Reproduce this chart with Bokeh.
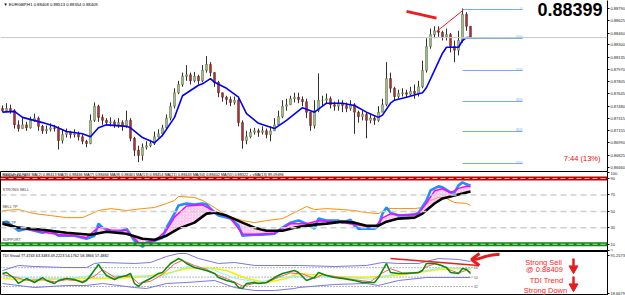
from bokeh.plotting import figure
from bokeh.layouts import column
from bokeh.models import Range1d, FixedTicker, PrintfTickFormatter, Label, Span
from bokeh.embed import file_html
from bokeh.resources import INLINE

FONT = "Liberation Sans"

# ---------------- data: EURGBP H1 candles ----------------
first_open = 0.8745
close = [0.8742, 0.8745, 0.8742, 0.8723, 0.8718, 0.8723, 0.8719, 0.8729, 0.8732, 0.8721,
         0.8715, 0.8717, 0.8719, 0.8718, 0.8702, 0.8710, 0.8713, 0.8710, 0.8711, 0.8707,
         0.8701, 0.8698, 0.8729, 0.8748, 0.8733, 0.8729, 0.8726, 0.8727, 0.8723, 0.8726,
         0.8721, 0.8729, 0.8705, 0.8689, 0.8682, 0.8693, 0.8695, 0.8698, 0.8707, 0.8711,
         0.8719, 0.8732, 0.8748, 0.8766, 0.8777, 0.8788, 0.8790, 0.8782, 0.8788, 0.8782,
         0.8796, 0.8804, 0.8793, 0.8780, 0.8766, 0.8760, 0.8757, 0.8753, 0.8756, 0.8726,
         0.8702, 0.8707, 0.8713, 0.8715, 0.8713, 0.8715, 0.8710, 0.8715, 0.8723, 0.8734,
         0.8748, 0.8750, 0.8758, 0.8760, 0.8757, 0.8754, 0.8740, 0.8722, 0.8742, 0.8756,
         0.8756, 0.8758, 0.8750, 0.8748, 0.8752, 0.8749, 0.8745, 0.8750, 0.8740, 0.8734,
         0.8737, 0.8729, 0.8732, 0.8729, 0.8740, 0.8750, 0.8785, 0.8772, 0.8761, 0.8765,
         0.8766, 0.8764, 0.8768, 0.8765, 0.8774, 0.8796, 0.8828, 0.8844, 0.8849, 0.8847,
         0.8841, 0.8844, 0.8828, 0.8823, 0.8836, 0.8871, 0.8855, 0.8840]
high = [0.8749, 0.8752, 0.8750, 0.8744, 0.8729, 0.8732, 0.8727, 0.8734, 0.8738, 0.8734,
        0.8723, 0.8722, 0.8725, 0.8723, 0.8721, 0.8717, 0.8718, 0.8715, 0.8717, 0.8714,
        0.8710, 0.8703, 0.8737, 0.8753, 0.8750, 0.8737, 0.8732, 0.8733, 0.8730, 0.8732,
        0.8729, 0.8742, 0.8732, 0.8707, 0.8695, 0.8698, 0.8701, 0.8703, 0.8714, 0.8717,
        0.8723, 0.8737, 0.8753, 0.8772, 0.8782, 0.8793, 0.8803, 0.8793, 0.8794, 0.8790,
        0.8803, 0.8815, 0.8807, 0.8793, 0.8782, 0.8766, 0.8762, 0.8761, 0.8761, 0.8760,
        0.8729, 0.8715, 0.8718, 0.8719, 0.8718, 0.8721, 0.8718, 0.8721, 0.8732, 0.8742,
        0.8756, 0.8758, 0.8762, 0.8766, 0.8766, 0.8761, 0.8758, 0.8740, 0.8756, 0.8792,
        0.8762, 0.8765, 0.8761, 0.8754, 0.8757, 0.8756, 0.8753, 0.8756, 0.8752, 0.8742,
        0.8742, 0.8740, 0.8737, 0.8736, 0.8748, 0.8758, 0.8807, 0.8793, 0.8774, 0.8770,
        0.8772, 0.8770, 0.8774, 0.8777, 0.8782, 0.8809, 0.8839, 0.8852, 0.8855, 0.8855,
        0.8849, 0.8852, 0.8846, 0.8836, 0.8849, 0.8879, 0.8874, 0.8855]
low = [0.8740, 0.8741, 0.8738, 0.8718, 0.8714, 0.8718, 0.8715, 0.8718, 0.8727, 0.8715,
       0.8711, 0.8711, 0.8714, 0.8714, 0.8690, 0.8698, 0.8706, 0.8705, 0.8706, 0.8702,
       0.8697, 0.8693, 0.8697, 0.8727, 0.8727, 0.8723, 0.8722, 0.8721, 0.8719, 0.8719,
       0.8715, 0.8719, 0.8701, 0.8681, 0.8673, 0.8675, 0.8690, 0.8693, 0.8696, 0.8706,
       0.8709, 0.8718, 0.8729, 0.8745, 0.8764, 0.8774, 0.8782, 0.8777, 0.8780, 0.8777,
       0.8780, 0.8793, 0.8788, 0.8774, 0.8760, 0.8754, 0.8750, 0.8748, 0.8750, 0.8721,
       0.8691, 0.8697, 0.8705, 0.8710, 0.8707, 0.8710, 0.8705, 0.8701, 0.8715, 0.8723,
       0.8732, 0.8742, 0.8750, 0.8753, 0.8752, 0.8748, 0.8732, 0.8715, 0.8718, 0.8740,
       0.8748, 0.8752, 0.8745, 0.8742, 0.8742, 0.8740, 0.8740, 0.8742, 0.8711, 0.8726,
       0.8729, 0.8705, 0.8725, 0.8723, 0.8727, 0.8740, 0.8748, 0.8766, 0.8756, 0.8758,
       0.8761, 0.8760, 0.8762, 0.8758, 0.8761, 0.8772, 0.8793, 0.8825, 0.8839, 0.8841,
       0.8836, 0.8836, 0.8820, 0.8807, 0.8816, 0.8833, 0.8849, 0.8839]

# moving average (blue) sampled at bar indices
ma_idx = [0, 3, 5, 10, 13, 16, 20, 22, 24, 26, 31, 32, 35, 38, 40, 43, 45, 49, 50, 52, 53, 56,
          59, 61, 64, 68, 71, 75, 78, 81, 85, 88, 91, 94, 95, 97, 98, 101, 105, 106, 108, 110,
          111, 114, 115, 116, 117]
ma_val = [0.8740, 0.8741, 0.8733, 0.8726, 0.8721, 0.8714, 0.8711, 0.8707, 0.8719, 0.8723,
          0.8721, 0.8719, 0.8706, 0.8699, 0.8709, 0.8733, 0.8762, 0.8776, 0.8778, 0.8785,
          0.8780, 0.8772, 0.8760, 0.8738, 0.8725, 0.8718, 0.8729, 0.8746, 0.8740, 0.8752,
          0.8752, 0.8749, 0.8740, 0.8733, 0.8736, 0.8752, 0.8756, 0.8760, 0.8766, 0.8773,
          0.8796, 0.8819, 0.8827, 0.8827, 0.8836, 0.8840, 0.8840]

bid = 0.88399
price_ticks = [0.88790, 0.88625, 0.88460, 0.88300, 0.88135, 0.87970, 0.87805, 0.87645,
               0.87480, 0.87315, 0.87155, 0.86990, 0.86825, 0.86660]

fib_levels = [0.88775, 0.88387, 0.87958, 0.87543, 0.87141, 0.86712]
fib_labels = ["0", "100", "200", "300", "400", "500"]
fib_x = [115, 130]

trend_thick_x = [101, 108.5]
trend_thick_y = [0.8875, 0.8866]
trend_thin_x = [108.5, 115.25]
trend_thin_y = [0.8848, 0.8877]

# ---------------- RSI panel ----------------
rsi_idx = [0, 1, 3, 4, 6, 8, 10, 12, 14, 18, 21, 23, 24, 25, 27, 29, 31, 33, 35, 36,
           38, 40, 41, 43, 44, 46, 48, 50, 51, 53, 54, 57, 59, 60, 63, 65, 68, 70, 72, 74,
           76, 78, 79, 81, 84, 85, 87, 88, 89, 93, 94, 95, 96, 97, 99, 103, 104, 106, 107, 109,
           110, 112, 113, 114, 115, 116, 117]
rsi_val = [36.3, 37.5, 30.2, 26.5, 29.0, 26.5, 24.0, 26.5, 20.4, 20.4,
           16.7, 20.4, 35.1, 30.2, 26.5, 24.0, 29.0, 14.3, 6.9, 11.8,
           14.3, 17.9, 30.2, 47.3, 57.1, 59.6, 58.4, 59.6, 58.4, 48.5,
           44.9, 41.2, 32.6, 20.4, 21.6, 21.6, 22.8, 30.2, 36.3, 38.8,
           35.1, 29.0, 41.2, 38.8, 38.8, 36.3, 40.0, 32.6, 29.0, 29.0,
           32.6, 47.3, 54.7, 48.5, 44.9, 46.1, 48.5, 63.3, 75.5, 80.4,
           79.2, 73.1, 73.1, 81.6, 85.3, 82.9, 81.6]
rsi_ma_idx = [0, 3, 6, 10, 14, 18, 21, 24, 27, 31, 34, 36, 38, 41, 43, 46, 50, 53, 57, 60,
              63, 68, 72, 76, 79, 84, 88, 93, 95, 97, 100, 104, 106, 108, 110, 112, 114, 116, 117]
rsi_ma_val = [35.5, 31.0, 28.5, 25.0, 22.0, 20.5, 18.0, 31.0, 27.5, 27.0, 12.0, 11.5, 14.0,
              27.0, 43.0, 56.5, 58.0, 50.0, 42.0, 22.5, 22.0, 23.5, 35.0, 35.0, 38.5, 37.0,
              34.0, 30.0, 42.0, 47.0, 45.0, 47.0, 60.0, 75.0, 77.5, 72.5, 78.0, 80.5, 80.0]
sig_idx = [0, 4, 10, 16, 22, 26, 31, 35, 38, 41, 44, 48, 51, 53, 56, 60, 63, 66, 70, 73,
           78, 81, 85, 88, 91, 94, 96, 99, 103, 105, 108, 110, 113, 115, 117]
sig_val = [35.1, 30.2, 27.7, 24.0, 21.6, 25.3, 22.8, 16.7, 15.5, 20.4,
           29.0, 36.3, 47.3, 48.5, 44.9, 36.3, 30.2, 26.5, 26.5, 30.2,
           33.9, 35.1, 37.5, 36.3, 32.6, 32.6, 37.5, 41.2, 42.4, 47.3,
           59.6, 65.7, 69.4, 71.8, 74.3]
band_idx = [0, 4, 8, 12, 16, 20, 24, 27, 31, 35, 38, 41, 43, 44, 48, 50, 53, 56, 60, 63,
            66, 70, 73, 76, 78, 81, 85, 88, 91, 94, 96, 99, 103, 105, 107, 109, 111, 113, 116, 117]
band_val = [51.0, 52.2, 47.3, 44.9, 42.4, 42.4, 51.0, 53.4, 51.0, 53.4,
            54.7, 59.6, 63.3, 68.2, 66.9, 63.3, 54.7, 44.9, 38.8, 36.3,
            38.8, 41.2, 48.5, 55.9, 52.2, 53.4, 52.2, 51.0, 48.5, 47.3,
            53.4, 53.4, 53.4, 54.7, 63.3, 66.9, 65.7, 60.8, 59.6, 57.1]
rsi_levels = [70, 50, 30]
rsi_level_names = ["RESISTANCE", "STRONG SELL", "SELL TP", "BUY TP", "SUPPORT"]
rsi_level_name_y = [91.2, 73.0, 52.4, 33.0, 12.4]

# ---------------- TDI panel ----------------
tdi_idx = [0, 1, 3, 4, 6, 8, 10, 11, 13, 14, 16, 18, 20, 21, 22, 24, 25, 26, 28, 29,
           31, 32, 33, 34, 35, 37, 39, 40, 42, 44, 45, 46, 48, 49, 51, 53, 54, 56, 58, 59,
           60, 61, 63, 64, 66, 68, 70, 71, 73, 74, 76, 78, 79, 81, 83, 85, 88, 90, 93, 94,
           96, 97, 99, 101, 104, 105, 106, 108, 109, 111, 112, 114, 115, 116, 117]
tdi_price = [56.9, 58.8, 47.3, 37.8, 47.3, 39.7, 49.2, 43.5, 37.8, 43.5,
             47.3, 45.4, 39.7, 43.5, 53.1, 74.1, 62.6, 53.1, 45.4, 49.2,
             53.1, 56.9, 37.8, 32.1, 39.7, 47.3, 56.9, 58.8, 76.0, 85.5,
             81.7, 76.0, 68.3, 66.4, 62.6, 56.9, 49.2, 43.5, 39.7, 30.1,
             28.2, 37.8, 39.7, 37.8, 39.7, 49.2, 56.9, 58.8, 62.6, 58.8,
             43.5, 49.2, 58.8, 53.1, 49.2, 47.3, 43.5, 39.7, 39.7, 49.2,
             76.0, 58.8, 56.9, 56.9, 58.8, 62.6, 76.0, 76.0, 74.1, 68.3,
             58.8, 56.9, 66.4, 64.5, 56.9]
tdi_sig_idx = [0, 3, 6, 10, 13, 16, 20, 23, 25, 28, 32, 34, 37, 40, 43, 45, 48, 51, 54, 57,
               60, 63, 66, 69, 72, 75, 78, 80, 84, 88, 92, 95, 97, 100, 104, 106, 108, 110,
               112, 114, 116, 117]
tdi_sig = [55, 50, 44, 45, 41, 45, 42, 52, 64, 50, 52, 38, 42, 55, 75, 82, 72, 65, 53, 44,
           33, 38, 39, 50, 58, 56, 47, 55, 50, 45, 41, 58, 66, 58, 58, 70, 75, 72, 63, 58, 63, 60]
mbl_idx = [0, 8, 16, 25, 33, 41, 46, 51, 56, 61, 66, 71, 74, 83, 91, 98, 104, 109, 114, 117]
mbl_val = [47.3, 43.5, 47.3, 47.3, 49.2, 56.9, 66.4, 68.3, 62.6, 47.3, 39.7, 47.3, 56.9,
           51.2, 49.2, 53.1, 58.8, 64.5, 66.4, 64.5]
vb_up_idx = [0, 4, 8, 16, 21, 23, 25, 33, 37, 41, 44, 46, 49, 54, 58, 63, 68, 74, 83, 91,
             95, 99, 104, 106, 109, 114, 117]
vb_up = [62.6, 72.2, 70.2, 68.3, 68.3, 76.0, 77.9, 76.0, 77.9, 89.4, 95.1, 95.1, 85.5, 76.0,
         77.9, 72.2, 72.2, 72.2, 70.2, 72.2, 77.9, 76.0, 76.0, 79.8, 85.5, 83.6, 79.8]
vb_lo_idx = [0, 8, 16, 21, 25, 33, 36, 41, 46, 53, 58, 63, 68, 73, 74, 83, 91, 94, 99, 106,
             112, 117]
vb_lo = [37.8, 30.1, 34.0, 34.0, 37.8, 30.1, 28.2, 37.8, 39.7, 43.5, 30.1, 24.4, 24.4, 28.2,
         30.1, 35.9, 37.8, 34.0, 43.5, 49.2, 49.2, 49.2]
cy_idx = [0, 8, 16, 24, 32, 40, 46, 52, 58, 64, 70, 76, 84, 92, 98, 104, 110, 117]
cy_val = [52, 48, 47, 55, 52, 52, 70, 66, 48, 40, 50, 52, 50, 46, 56, 60, 68, 66]
tdi_levels = [68, 50, 32]
tdi_trend_x = [97, 119]
tdi_trend_y = [85.5, 72.2]

# ---------------- screen-position helpers for annotations ----------------
def ix(px):
    return (px - 2) / 4.0

def my(py):
    return 0.88896 - 0.000134 * py

def ty(py):
    return 91.26 - (py - 255) / 0.5235

xr = Range1d(-0.5, 151.25)


def base_fig(h, yr, outline):
    p = figure(frame_width=607, frame_height=h, x_range=xr, y_range=yr,
               x_axis_location=None, y_axis_location="right",
               output_backend="svg", toolbar_location=None,
               min_border_left=0, min_border_top=0, min_border_bottom=0,
               min_border_right=18)
    p.grid.visible = False
    p.background_fill_color = "white"
    p.border_fill_color = "white"
    p.outline_line_color = outline
    ax = p.yaxis[0]
    ax.major_label_text_font_size = "4px"
    ax.major_label_text_font = FONT
    ax.major_label_text_color = "#202020"
    ax.major_tick_out = 2
    ax.major_tick_in = 0
    ax.minor_tick_out = 0
    ax.minor_tick_in = 0
    ax.major_label_standoff = 1
    ax.axis_line_color = "black"
    return p


# ================= main price panel =================
p1 = base_fig(171, Range1d(0.86605, 0.88896), None)
p1.yaxis[0].ticker = FixedTicker(ticks=price_ticks)
p1.yaxis[0].formatter = PrintfTickFormatter(format="%.5f")

p1.add_layout(Span(location=bid, dimension="width", line_color="#c8c8c8", line_width=1))

n = len(close)
idx = list(range(n))
opens = [first_open] + close[:-1]
p1.segment(x0=idx, y0=high, x1=idx, y1=low, line_color="#303030", line_width=1)
bx = [i for i in idx if close[i] >= opens[i]]
sx = [i for i in idx if close[i] < opens[i]]
p1.vbar(x=bx, width=0.45, top=[close[i] for i in bx], bottom=[opens[i] for i in bx],
        fill_color="#b4bea6", line_color="#4d6b2c", line_width=0.6)
p1.vbar(x=sx, width=0.45, top=[opens[i] for i in sx], bottom=[close[i] for i in sx],
        fill_color="#a83a3a", line_color="#6e1a1a", line_width=0.6)
p1.line(ma_idx, ma_val, line_color="#0000ff", line_width=1.6)

for lv, lb in zip(fib_levels, fib_labels):
    p1.line(fib_x, [lv, lv], line_color="#74aee6", line_width=1)
    p1.add_layout(Label(x=fib_x[1], y=lv, text=lb, text_font=FONT, text_font_size="4px",
                        text_color="#74aee6", text_align="right", text_baseline="bottom"))

p1.line(trend_thick_x, trend_thick_y, line_color="#ee1c1c", line_width=3)
p1.line(trend_thin_x, trend_thin_y, line_color="#ee1c1c", line_width=1)

p1.add_layout(Label(x=-0.5, y=0.88896, x_offset=3, y_offset=-1,
                    text="\u25BC EURGBP,H1  0.88408 0.88513 0.88354 0.88409",
                    text_font=FONT, text_font_size="4.2px", text_color="black",
                    text_baseline="top"))
p1.add_layout(Label(x=150, y=my(2), text="0.88399", text_font=FONT,
                    text_font_size="18px", text_font_style="bold", text_color="black",
                    text_align="right", text_baseline="top"))
p1.add_layout(Label(x=149.5, y=my(162), text="7:44 (13%)", text_font=FONT,
                    text_font_size="7.5px", text_color="#ff0000",
                    text_align="right", text_baseline="bottom"))
p1.add_layout(Label(x=151.25, y=bid, x_offset=1, text="0.88399", text_font=FONT,
                    text_font_size="4px", text_color="white",
                    background_fill_color="black", text_baseline="middle"))

# ================= RSI panel =================
p2 = base_fig(80, Range1d(1.2, 98.5), "black")
p2.yaxis[0].ticker = FixedTicker(ticks=[97.5, 90, 70, 50, 30, 10, 2.2])
p2.yaxis[0].major_label_overrides = {97.5: "100", 90: "90", 70: "70", 50: "50",
                                     30: "30", 10: "10", 2.2: "0"}

p2.add_layout(Span(location=90, dimension="width", line_color="#c40000", line_width=4))
p2.add_layout(Span(location=90, dimension="width", line_color="#f0b0b0", line_width=1,
                   line_dash="5 3"))
p2.add_layout(Span(location=10, dimension="width", line_color="#138a13", line_width=4))
p2.add_layout(Span(location=10, dimension="width", line_color="#b0e0b0", line_width=1,
                   line_dash="5 3"))
for lv in rsi_levels:
    p2.add_layout(Span(location=lv, dimension="width", line_color="#cfcfcf",
                       line_width=1.5, line_dash="6 4"))
for nm, yy in zip(rsi_level_names, rsi_level_name_y):
    p2.add_layout(Label(x=-0.5, y=yy, x_offset=2, text=nm, text_font=FONT,
                        text_font_size="3.8px", text_color="#404040", text_baseline="bottom"))

p2.line(band_idx, band_val, line_color="#ff8c00", line_width=1)
px_ = rsi_ma_idx + sig_idx[::-1]
py_ = rsi_ma_val + sig_val[::-1]
p2.patch(px_, py_, fill_color="#ffc8f0", fill_alpha=0.35, hatch_pattern="/",
         hatch_color="#ff60d0", hatch_scale=3, hatch_weight=0.5, hatch_alpha=0.8, line_alpha=0)
p2.line(rsi_idx, rsi_val, line_color="#1e8fff", line_width=2.6)
p2.line(rsi_ma_idx, rsi_ma_val, line_color="#ff00ff", line_width=1.5)
p2.line(sig_idx, sig_val, line_color="black", line_width=2.6)

p2.add_layout(Label(x=-0.5, y=98.5, x_offset=2, y_offset=-1,
                    text="RSI(14) 72.9384   MA(2) 0.88413   MA(3) 0.88466   MA(7) 0.88466   "
                         "MA(8) 0.88461   MA(13) 0.88454   MA(21) 0.88443   MA(34) 0.88402   "
                         "MA(55) 0.88322   + vMA(13) 89.09496",
                    text_font=FONT, text_font_size="3.8px", text_color="black",
                    text_baseline="top"))

# ================= TDI panel =================
p3 = base_fig(44, Range1d(14.85, 98.9), "black")
p3.yaxis[0].ticker = FixedTicker(ticks=[91.26, 18.67])
p3.yaxis[0].major_label_overrides = {91.26: "91.2573", 18.67: "18.6679"}

for lv in tdi_levels:
    p3.line([-0.5, 117.5], [lv, lv], line_color="#707070", line_width=1, line_dash="1 2")
    p3.add_layout(Label(x=117.8, y=lv, text=str(lv), text_font=FONT, text_font_size="3.8px",
                        text_color="#606060", text_baseline="middle"))

p3.line(vb_up_idx, vb_up, line_color="#7777e8", line_width=1)
p3.line(vb_lo_idx, vb_lo, line_color="#7777e8", line_width=1)
p3.line(mbl_idx, mbl_val, line_color="#f2f200", line_width=1.6)
p3.line(cy_idx, cy_val, line_color="#8ff0ff", line_width=1)
p3.line(tdi_sig_idx, tdi_sig, line_color="#ff5a5a", line_width=1)
p3.line(tdi_idx, tdi_price, line_color="#0a8a0a", line_width=1.5)
p3.line(tdi_trend_x, tdi_trend_y, line_color="#ee1c1c", line_width=1.5)

# curved arrow pointing at the divergence
p3.bezier(x0=[ix(499)], y0=[ty(254)], x1=[ix(473)], y1=[ty(259)],
          cx0=[ix(488)], cy0=[ty(253)], cx1=[ix(480)], cy1=[ty(259)],
          line_color="#e81c1c", line_width=3)
p3.line([ix(479), ix(471), ix(479)], [ty(253), ty(259), ty(265)],
        line_color="#e81c1c", line_width=3)

p3.add_layout(Label(x=-0.5, y=98.9, x_offset=2, y_offset=-2,
                    text="TDI Visual 77.4743 63.3483 49.2223 54.1762 58.3866 57.4882",
                    text_font=FONT, text_font_size="3.8px", text_color="black",
                    text_baseline="top"))

for txt, cx, cyy in [("Strong Sell", 543, 262), ("@ 0.88409", 544, 269.5),
                     ("TDI Trend", 546, 280.5), ("Strong Down", 545, 290)]:
    p3.add_layout(Label(x=ix(cx), y=ty(cyy), text=txt, text_font=FONT,
                        text_font_size="7.5px", text_color="#ff1a1a",
                        text_align="center", text_baseline="middle"))

for top_py in [258, 276]:
    p3.segment(x0=[ix(573)], y0=[ty(top_py)], x1=[ix(573)], y1=[ty(top_py + 8)],
               line_color="#e81c1c", line_width=2.5)
    p3.scatter(x=[ix(573)], y=[ty(top_py + 10)], marker="inverted_triangle", size=9,
               fill_color="#e81c1c", line_color="#e81c1c")

layout = column(p1, p2, p3, spacing=0)
open("out.html", "w").write(file_html(layout, INLINE))
